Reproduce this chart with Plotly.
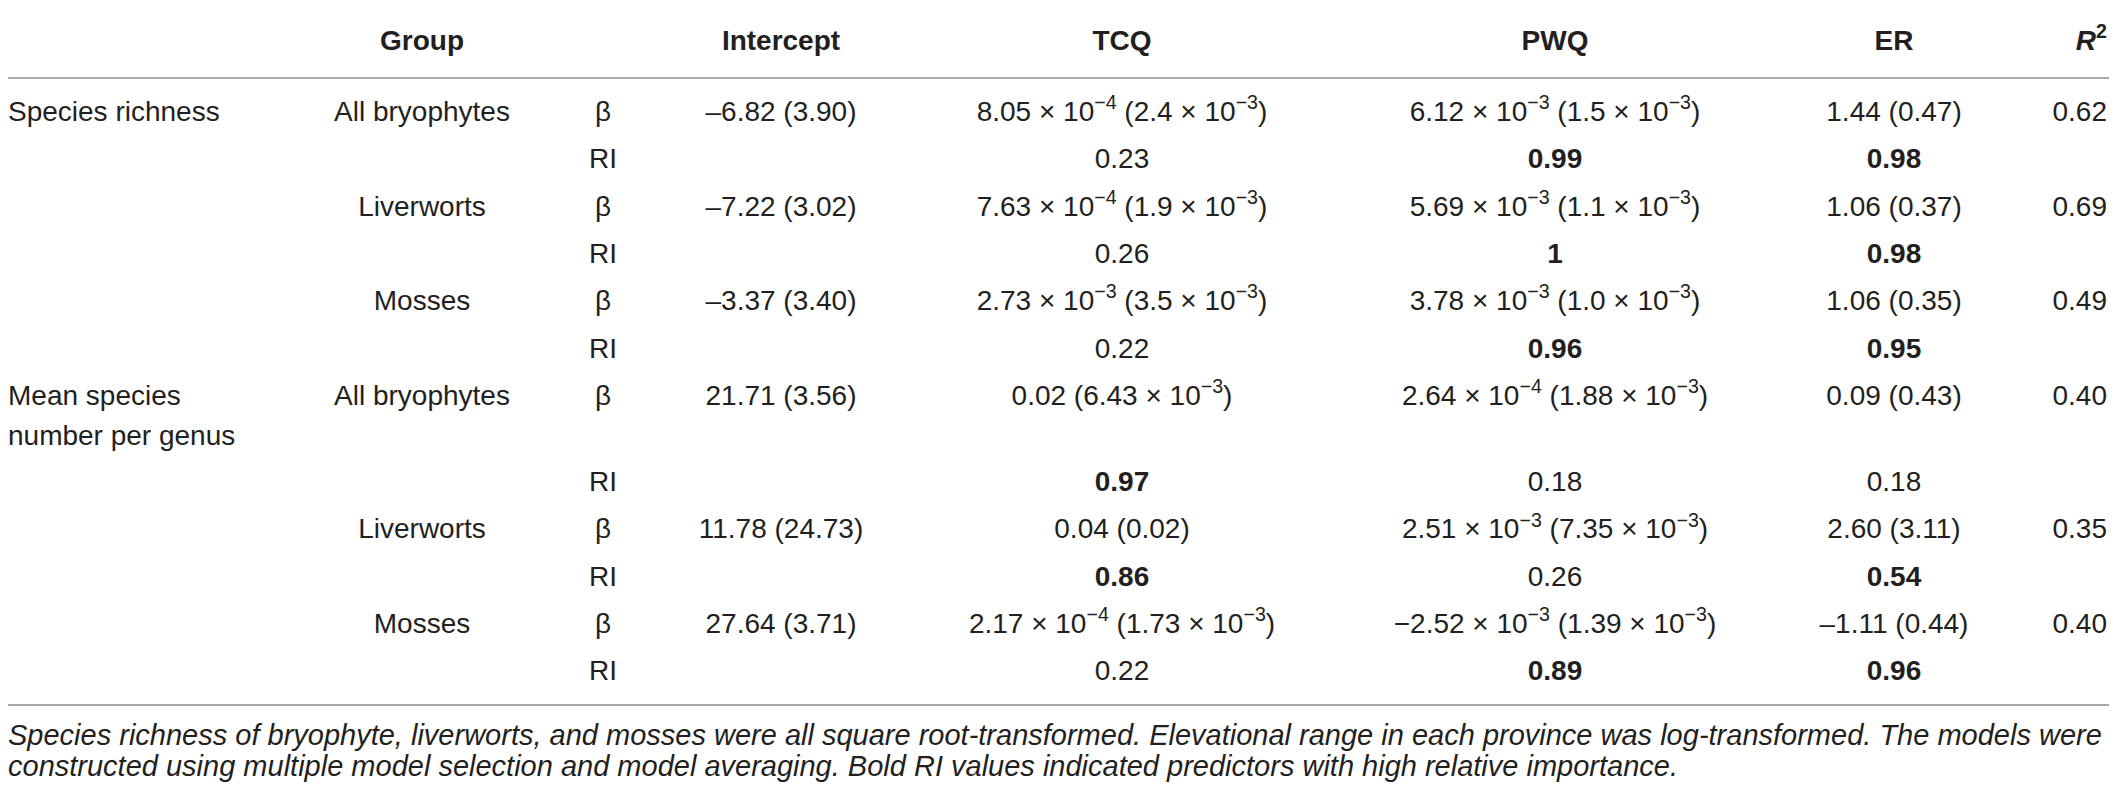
import plotly.graph_objects as go

# Table contents
responses = ["Species richness", "Mean species", "number per genus"]
groups = ["All bryophytes", "Liverworts", "Mosses",
          "All bryophytes", "Liverworts", "Mosses"]
headers = ["Group", "Intercept", "TCQ", "PWQ", "ER"]
r2_header = "<i>R</i><sup>2</sup>"

intercept_beta = ["–6.82 (3.90)", "–7.22 (3.02)", "–3.37 (3.40)",
                  "21.71 (3.56)", "11.78 (24.73)", "27.64 (3.71)"]
tcq_beta = ["8.05 × 10<sup>−4</sup> (2.4 × 10<sup>−3</sup>)",
            "7.63 × 10<sup>−4</sup> (1.9 × 10<sup>−3</sup>)",
            "2.73 × 10<sup>−3</sup> (3.5 × 10<sup>−3</sup>)",
            "0.02 (6.43 × 10<sup>−3</sup>)",
            "0.04 (0.02)",
            "2.17 × 10<sup>−4</sup> (1.73 × 10<sup>−3</sup>)"]
pwq_beta = ["6.12 × 10<sup>−3</sup> (1.5 × 10<sup>−3</sup>)",
            "5.69 × 10<sup>−3</sup> (1.1 × 10<sup>−3</sup>)",
            "3.78 × 10<sup>−3</sup> (1.0 × 10<sup>−3</sup>)",
            "2.64 × 10<sup>−4</sup> (1.88 × 10<sup>−3</sup>)",
            "2.51 × 10<sup>−3</sup> (7.35 × 10<sup>−3</sup>)",
            "−2.52 × 10<sup>−3</sup> (1.39 × 10<sup>−3</sup>)"]
er_beta = ["1.44 (0.47)", "1.06 (0.37)", "1.06 (0.35)",
           "0.09 (0.43)", "2.60 (3.11)", "–1.11 (0.44)"]
r_squared = ["0.62", "0.69", "0.49", "0.40", "0.35", "0.40"]

tcq_ri = ["0.23", "0.26", "0.22", "0.97", "0.86", "0.22"]
pwq_ri = ["0.99", "1", "0.96", "0.18", "0.26", "0.89"]
er_ri = ["0.98", "0.98", "0.95", "0.18", "0.54", "0.96"]
# predictors with high relative importance (shown in bold)
tcq_high = [False, False, False, True, True, False]
pwq_high = [True, True, True, False, False, True]
er_high = [True, True, True, False, True, True]

caption = [
    "Species richness of bryophyte, liverworts, and mosses were all square root-transformed. "
    "Elevational range in each province was log-transformed. The models were",
    "constructed using multiple model selection and model averaging. "
    "Bold RI values indicated predictors with high relative importance.",
]

# layout helpers (coordinates are page pixels; the page body has an 8px margin)
W, H = 2117, 794
PAD = 8
FONT = "Liberation Sans, Arial, Helvetica, sans-serif"
INK = "#231f20"
SIZE = 28
col_x = {"group": 422, "stat": 603, "intercept": 781, "tcq": 1122,
         "pwq": 1555, "er": 1894, "r2": 2107}
top, pitch, extra = 114, 47.3, 39


def line_y(k):
    y = top + pitch * k
    if k > 6:
        y += extra
    return y


beta_y = [line_y(2 * i) for i in range(6)]
ri_y = [line_y(2 * i + 1) for i in range(6)]


def bold(vals, flags):
    return [f"<b>{v}</b>" if f else v for v, f in zip(vals, flags)]


def text_trace(x, y, text, pos="middle center", size=SIZE):
    if not isinstance(x, list):
        x = [x] * len(y)
    return go.Scatter(x=x, y=y, text=text, mode="text", textposition=pos,
                      textfont=dict(family=FONT, size=size, color=INK),
                      hoverinfo="skip", showlegend=False, cliponaxis=False)


fig = go.Figure()

# header row
head_x = [col_x[k] for k in ["group", "intercept", "tcq", "pwq", "er"]]
fig.add_trace(text_trace(head_x, [43] * len(headers),
                         [f"<b>{h}</b>" for h in headers]))
fig.add_trace(text_trace(col_x["r2"], [43], [f"<b>{r2_header}</b>"],
                         pos="middle left"))

# response labels (left aligned)
fig.add_trace(text_trace(PAD, [beta_y[0], beta_y[3], beta_y[3] + 40], responses,
                         pos="middle right"))

fig.add_trace(text_trace(col_x["group"], beta_y, groups))
fig.add_trace(text_trace(col_x["stat"], beta_y, ["β"] * 6))
fig.add_trace(text_trace(col_x["stat"], ri_y, ["RI"] * 6))
fig.add_trace(text_trace(col_x["intercept"], beta_y, intercept_beta))
fig.add_trace(text_trace(col_x["tcq"], beta_y, tcq_beta))
fig.add_trace(text_trace(col_x["pwq"], beta_y, pwq_beta))
fig.add_trace(text_trace(col_x["er"], beta_y, er_beta))
fig.add_trace(text_trace(col_x["r2"], beta_y, r_squared, pos="middle left"))
fig.add_trace(text_trace(col_x["tcq"], ri_y, bold(tcq_ri, tcq_high)))
fig.add_trace(text_trace(col_x["pwq"], ri_y, bold(pwq_ri, pwq_high)))
fig.add_trace(text_trace(col_x["er"], ri_y, bold(er_ri, er_high)))

# footnote
fig.add_trace(text_trace(PAD, [738, 769], [f"<i>{c}</i>" for c in caption],
                         pos="middle right", size=29))

# rules
for yy in [6, 78, 705]:
    fig.add_shape(type="line", x0=PAD, x1=W - PAD, y0=yy, y1=yy,
                  line=dict(color="#a8a8a8", width=2))

fig.update_layout(
    width=W - 2 * PAD, height=H - 2 * PAD,
    margin=dict(l=0, r=0, t=0, b=0),
    paper_bgcolor="white", plot_bgcolor="white",
    xaxis=dict(range=[PAD, W - PAD], visible=False, fixedrange=True),
    yaxis=dict(range=[H - PAD, PAD], visible=False, fixedrange=True),
)

fig.write_html("out.html")
